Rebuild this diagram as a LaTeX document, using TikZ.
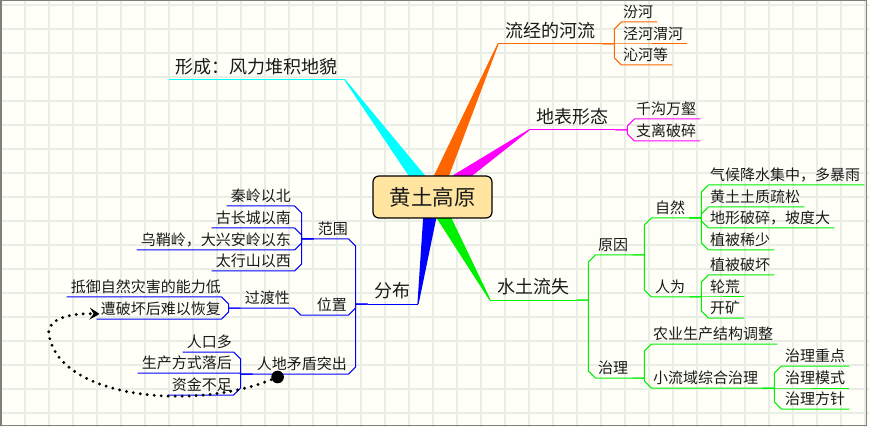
\documentclass[tikz,border=0pt]{standalone}
\usepackage{fontspec}
\newfontfamily\cjk{Noto Sans CJK SC}
\usetikzlibrary{arrows.meta, calc}
\definecolor{ink}{HTML}{1A1A1A}
\definecolor{paper}{HTML}{FFFFF8}
\definecolor{gridc}{HTML}{E8EEE6}
\definecolor{frame}{HTML}{7F7F7F}
\definecolor{hubfill}{HTML}{FFE5A0}
\definecolor{brcyan}{HTML}{00FFFF}
\definecolor{brorange}{HTML}{FF6600}
\definecolor{brmagenta}{HTML}{FF00FF}
\definecolor{brgreen}{HTML}{00F000}
\definecolor{brblue}{HTML}{0000FF}
\tikzset{
  hub/.style={draw=black, line width=1.2pt, fill=hubfill, rounded corners=6pt,
    minimum width=119pt, minimum height=42pt, inner sep=0pt, text=ink,
    font=\cjk\fontsize{21.5}{24}\selectfont},
  topic/.style={text=ink, inner xsep=7pt, inner ysep=6.5pt, text depth=0pt,
    font=\cjk\fontsize{18}{21}\selectfont},
  sub/.style={text=ink, inner xsep=4pt, inner ysep=4.5pt, text depth=0pt,
    font=\cjk\fontsize{15}{18}\selectfont},
  rsub/.style={sub, anchor=south west},
  lsub/.style={sub, anchor=south east},
  %
  wire/.style={draw=#1, line width=1pt, line join=round},
  rbranch/.style={to path={let \p1=(\tikztostart), \p2=(\tikztotarget),
      \n1={min(7,abs(\y2-\y1))}, \n2={sign(\y1-\y2)} in
      -- (\x1+12pt,\y1) -- (\x1+12pt,{\y2+(\n2)*(\n1)})
      -- ({\x1+12pt+\n1},\y2) -- (\tikztotarget)}},
  lbranch/.style={to path={let \p1=(\tikztostart), \p2=(\tikztotarget),
      \n1={min(7,abs(\y2-\y1))}, \n2={sign(\y1-\y2)} in
      -- (\x1-12pt,\y1) -- (\x1-12pt,{\y2+(\n2)*(\n1)})
      -- ({\x1-12pt-\n1},\y2) -- (\tikztotarget)}},
  %
  gridline/.style={draw=gridc, line width=1.8pt},
  dot/.style={circle, fill=black, minimum size=12.6pt, inner sep=0pt},
  relate/.style={line width=3.2pt, dash pattern=on 0pt off 7pt, line cap=round,
    -{Stealth[length=10pt, width=12pt, inset=4pt]}},
}
% thick wedge from the central topic out to a main topic
\newcommand{\taperto}[3]{%
  \fill[#1] ($(#2)!8pt!90:(#3)$) -- ($(#3)!.6pt!-90:(#2)$)
    -- ($(#3)!.6pt!90:(#2)$) -- ($(#2)!8pt!-90:(#3)$) -- cycle;}

\begin{document}
\begin{tikzpicture}[x=1pt, y=-1pt]

% paper and grid
\fill[paper] (0,0) rectangle (869,427);
\useasboundingbox (0,0) rectangle (869,427);
\foreach \gx in {1,25,...,865} \draw[gridline] (\gx,0) -- (\gx,427);
\foreach \gy in {5,29,...,425} \draw[gridline] (0,\gy) -- (869,\gy);

\coordinate (core) at (432.5,197);

% =========================================================================
% main topics
\node[topic, anchor=south east] (form)  at (345,80)  {形成：风力堆积地貌};
\node[topic, anchor=south west] (river) at (498,44)  {流经的河流};
\node[topic, anchor=south west] (land)  at (529,130) {地表形态};
\node[topic, anchor=south west] (loss)  at (490,300) {水土流失};
\node[topic, anchor=south east] (dist)  at (418,304) {分布};

\taperto{brcyan}{core}{form.south east}
\taperto{brorange}{core}{river.south west}
\taperto{brmagenta}{core}{land.south west}
\taperto{brgreen}{core}{loss.south west}
\taperto{brblue}{core}{dist.south east}

\node[hub] (hub) at (core) {黄土高原};

% =========================================================================
% rivers
\draw[wire=brcyan] (form.south east) -- (form.south west);
\draw[wire=brorange] (river.south west) -- (river.south east);
\node[rsub] (fen)  at (619,22) {汾河};
\node[rsub] (jing) at (619,44) {泾河渭河};
\node[rsub] (qin)  at (619,65) {沁河等};
\foreach \leaf in {fen,jing,qin}
  \draw[wire=brorange] (river.south east) to[rbranch] (\leaf.south east);

% =========================================================================
% landforms
\draw[wire=brmagenta] (land.south west) -- (land.south east);
\node[rsub] (gully)  at (632,119) {千沟万壑};
\node[rsub] (broken) at (632,141) {支离破碎};
\foreach \leaf in {gully,broken}
  \draw[wire=brmagenta] (land.south east) to[rbranch] (\leaf.south east);

% =========================================================================
% soil erosion
\draw[wire=brgreen] (loss.south west) -- (loss.south east);
\node[rsub] (cause)  at (594,255) {原因};
\node[rsub] (govern) at (594,378) {治理};
\node[rsub] (natural) at (651,218) {自然};
\node[rsub] (human)   at (651,297) {人为};
\node[rsub] (rain)  at (706,185) {气候降水集中，多暴雨};
\node[rsub] (loose) at (706,207) {黄土土质疏松};
\node[rsub] (steep) at (706,228) {地形破碎，坡度大};
\node[rsub] (bare)  at (706,250) {植被稀少};
\node[rsub] (cut)   at (706,275) {植被破坏};
\node[rsub] (fallow) at (706,297) {轮荒};
\node[rsub] (mine)  at (706,318) {开矿};
\node[rsub] (adjust) at (649,344) {农业生产结构调整};
\node[rsub] (basin)  at (649,388) {小流域综合治理};
\node[rsub] (focus) at (781,366) {治理重点};
\node[rsub] (mode)  at (781,388) {治理模式};
\node[rsub] (aim)   at (781,409) {治理方针};

\foreach \kid in {cause,govern}
  \draw[wire=brgreen] (loss.south east) to[rbranch] (\kid.south east);
\foreach \kid in {natural,human}
  \draw[wire=brgreen] (cause.south east) to[rbranch] (\kid.south east);
\foreach \leaf in {rain,loose,steep,bare}
  \draw[wire=brgreen] (natural.south east) to[rbranch] (\leaf.south east);
\foreach \leaf in {cut,fallow,mine}
  \draw[wire=brgreen] (human.south east) to[rbranch] (\leaf.south east);
\foreach \kid in {adjust,basin}
  \draw[wire=brgreen] (govern.south east) to[rbranch] (\kid.south east);
\foreach \leaf in {focus,mode,aim}
  \draw[wire=brgreen] (basin.south east) to[rbranch] (\leaf.south east);

% =========================================================================
% distribution
\draw[wire=brblue] (dist.south east) -- (dist.south west);
\node[lsub] (scope)    at (352,239) {范围};
\node[lsub] (pos)      at (351,315) {位置};
\node[lsub] (conflict) at (351,374) {人地矛盾突出};
\node[lsub] (north) at (295,206) {秦岭以北};
\node[lsub] (south) at (295,228) {古长城以南};
\node[lsub] (east)  at (295,250) {乌鞘岭，大兴安岭以东};
\node[lsub] (west)  at (295,271) {太行山以西};
\node[lsub] (trans) at (294,308) {过渡性};
\node[lsub] (resist)  at (225,297) {抵御自然灾害的能力低};
\node[lsub] (recover) at (225,319) {遭破坏后难以恢复};
\node[lsub] (people) at (236,352) {人口多};
\node[lsub] (method) at (236,373) {生产方式落后};
\node[lsub] (funds)  at (236,395) {资金不足};

\foreach \kid in {scope,pos,conflict}
  \draw[wire=brblue] (dist.south west) to[lbranch] (\kid.south west);
\foreach \leaf in {north,south,east,west}
  \draw[wire=brblue] (scope.south west) to[lbranch] (\leaf.south west);
\draw[wire=brblue] (pos.south west) to[lbranch] (trans.south west);
\foreach \leaf in {resist,recover}
  \draw[wire=brblue] (trans.south west) to[lbranch] (\leaf.south west);
\foreach \leaf in {people,method,funds}
  \draw[wire=brblue] (conflict.south west) to[lbranch] (\leaf.south west);

% feedback link
\node[dot] (tie) at ($(conflict.south west)+(25,3)$) {};
\draw[relate] (tie.center) .. controls (200,412) and (60,400) .. (49,335)
  .. controls (46,317) and (75,313) .. ($(recover.south west)+(3,-5)$);

\draw[frame, line width=1.5pt] (0.75,0.75) rectangle (866.5,425.5);
\end{tikzpicture}
\end{document}
